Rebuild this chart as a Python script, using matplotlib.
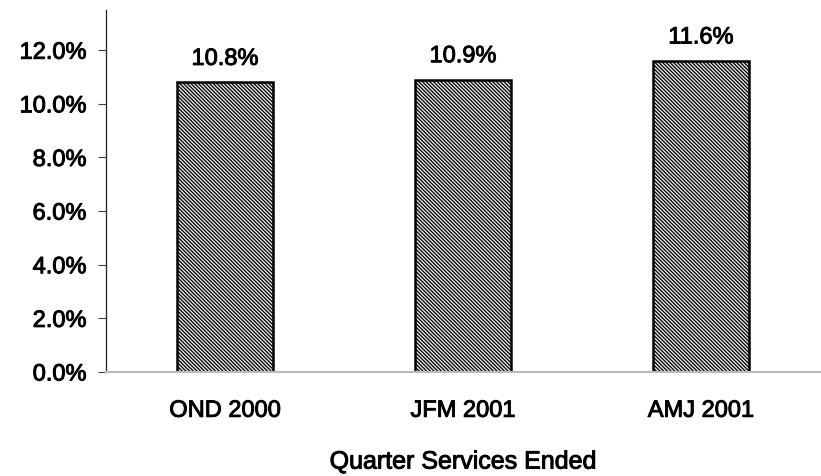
import matplotlib
matplotlib.use("Agg")
import matplotlib.pyplot as plt
import matplotlib.patheffects as pe
from matplotlib.ticker import FuncFormatter

categories = ["OND 2000", "JFM 2001", "AMJ 2001"]
values = [10.8, 10.9, 11.6]
value_labels = ["10.8%", "10.9%", "11.6%"]
y_ticks = [0, 2, 4, 6, 8, 10, 12]

plt.rcParams["font.family"] = ["Liberation Sans", "DejaVu Sans"]
plt.rcParams["hatch.linewidth"] = 0.9
plt.rcParams["hatch.color"] = "#1e1e1e"

FS = 17
heavy = [pe.withStroke(linewidth=0.7, foreground="black")]

fig = plt.figure(figsize=(8.21, 4.76), dpi=100)
ax = fig.add_axes([106 / 821, 104 / 476, 714 / 821, 362 / 476])

x = list(range(len(categories)))
bars = ax.bar(x, values, width=0.40, color="#e6e6e6", edgecolor="black",
              linewidth=1.8, hatch="\\" * 9)
for b, lab in zip(bars, value_labels):
    ax.annotate(lab, (b.get_x() + b.get_width() / 2, b.get_height()),
                xytext=(0, 9), textcoords="offset points", ha="center",
                va="bottom", fontsize=FS, path_effects=heavy)

ax.set_xlim(-0.5, len(categories) - 0.5)
ax.set_ylim(0, 13.5)
ax.set_yticks(y_ticks)
ax.yaxis.set_major_formatter(FuncFormatter(lambda v, _: f"{v:.1f}%"))
ax.set_xticks(x)
ax.set_xticklabels(categories)
ax.tick_params(axis="y", direction="out", length=6, width=0.8, color="#444444",
               labelsize=FS, pad=8)
ax.tick_params(axis="x", length=0, labelsize=FS, pad=20)
for t in ax.get_yticklabels() + ax.get_xticklabels():
    t.set_path_effects(heavy)

for s in ("top", "right"):
    ax.spines[s].set_visible(False)
ax.spines["left"].set_color("#222222")
ax.spines["left"].set_linewidth(0.9)
ax.spines["bottom"].set_color("#bbbbbb")
ax.spines["bottom"].set_linewidth(1.5)

ax.set_xlabel("Quarter Services Ended", fontsize=18, labelpad=20,
              path_effects=heavy)

fig.savefig("out.png", dpi=100)
